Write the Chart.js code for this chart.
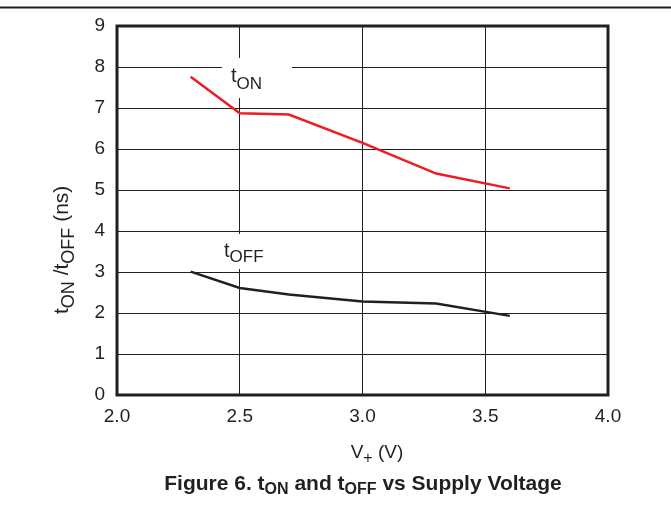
<!DOCTYPE html>
<html>
<head>
<meta charset="utf-8">
<script src="https://cdn.jsdelivr.net/npm/chart.js@4"></script>
<style>
  body { margin: 0; background: #fff; }
  #wrap { width: 671px; height: 506px; }
</style>
</head>
<body>
<div id="wrap"><canvas id="chart" width="671" height="506"></canvas></div>
<script>
// Data
const supplyVoltage = [2.3, 2.5, 2.7, 3.0, 3.3, 3.6];
const tOn = [7.76, 6.87, 6.84, 6.15, 5.40, 5.04];
const tOff = [3.01, 2.61, 2.45, 2.28, 2.23, 1.93];
const xTicks = [2.0, 2.5, 3.0, 3.5, 4.0];
const yTicks = [0, 1, 2, 3, 4, 5, 6, 7, 8, 9];

const FONT = '"Liberation Sans", Arial, sans-serif';
const INK = '#231f20';

// draw a run of text pieces (text, size, baseline shift, bold)
function drawRun(ctx, parts, x, y, align) {
    let widths = parts.map(p => {
        ctx.font = (p[3] ? 'bold ' : '') + p[1] + 'px ' + FONT;
        return ctx.measureText(p[0]).width;
    });
    let total = widths.reduce((a, b) => a + b, 0);
    let cx = align === 'center' ? x - total / 2 : x;
    parts.forEach((p, i) => {
        ctx.font = (p[3] ? 'bold ' : '') + p[1] + 'px ' + FONT;
        ctx.fillText(p[0], cx, y + (p[2] || 0));
        cx += widths[i];
    });
}

const decor = {
    id: 'decor',
    beforeDatasetsDraw(chart) {
        const ctx = chart.ctx;
        ctx.save();
        // white boxes behind the curve labels
        ctx.fillStyle = '#fff';
        ctx.fillRect(222, 58, 70, 40);
        ctx.fillRect(216, 234, 58, 35);
        ctx.fillStyle = INK;
        ctx.textAlign = 'left';
        ctx.textBaseline = 'alphabetic';
        drawRun(ctx, [['t', 20, 0], ['ON', 17, 7]], 231, 82, 'left');
        drawRun(ctx, [['t', 20, 0], ['OFF', 17, 5]], 224, 257, 'left');
        ctx.restore();
    },
    afterDraw(chart) {
        const ctx = chart.ctx;
        const a = chart.chartArea;
        ctx.save();
        // frame
        ctx.strokeStyle = INK;
        ctx.lineWidth = 3;
        ctx.strokeRect(a.left, a.top, a.right - a.left, a.bottom - a.top);
        // top page rule
        ctx.lineWidth = 2;
        ctx.beginPath();
        ctx.moveTo(0, 7.5);
        ctx.lineTo(671, 7.5);
        ctx.stroke();

        ctx.fillStyle = INK;
        ctx.textBaseline = 'alphabetic';
        // x axis title
        drawRun(ctx, [['V', 19, 0], ['+', 16, 5], [' (V)', 19, 0]], 377, 458, 'center');
        // caption
        drawRun(ctx, [['Figure 6. t', 21, 0, true], ['ON', 16, 4, true], [' and t', 21, 0, true],
                      ['OFF', 16, 4, true], [' vs Supply Voltage', 21, 0, true]], 363, 490, 'center');
        // y axis title, rotated
        ctx.translate(68, 314);
        ctx.rotate(-Math.PI / 2);
        drawRun(ctx, [['t', 21, 0], ['ON', 18, 6], [' /t', 21, 0], ['OFF', 18, 6], [' (ns)', 21, 0]], 0, 0, 'left');
        ctx.restore();
    }
};

new Chart(document.getElementById('chart'), {
    type: 'scatter',
    data: {
        datasets: [
            {
                label: 'tON',
                data: supplyVoltage.map((v, i) => ({ x: v, y: tOn[i] })),
                showLine: true,
                borderColor: '#ec1c24',
                borderWidth: 2.5,
                pointRadius: 0
            },
            {
                label: 'tOFF',
                data: supplyVoltage.map((v, i) => ({ x: v, y: tOff[i] })),
                showLine: true,
                borderColor: INK,
                borderWidth: 2.5,
                pointRadius: 0
            }
        ]
    },
    options: {
        responsive: false,
        animation: false,
        devicePixelRatio: 1,
        layout: { padding: { top: 26, right: 63, left: 0, bottom: 0 } },
        plugins: {
            legend: { display: false },
            tooltip: { enabled: false }
        },
        scales: {
            x: {
                type: 'linear',
                min: 2,
                max: 4,
                afterFit: s => { s.height = 111; },
                afterBuildTicks: s => { s.ticks = xTicks.map(v => ({ value: v })); },
                grid: { color: INK, lineWidth: 1, drawTicks: false },
                border: { display: false },
                ticks: {
                    color: INK,
                    padding: 10,
                    font: { family: FONT, size: 19 },
                    callback: v => Number(v).toFixed(1)
                }
            },
            y: {
                type: 'linear',
                min: 0,
                max: 9,
                afterFit: s => { s.width = 117; },
                afterBuildTicks: s => { s.ticks = yTicks.map(v => ({ value: v })); },
                grid: { color: INK, lineWidth: 1, drawTicks: false },
                border: { display: false },
                ticks: {
                    color: INK,
                    padding: 12,
                    font: { family: FONT, size: 19 }
                }
            }
        }
    },
    plugins: [decor]
});
</script>
</body>
</html>
